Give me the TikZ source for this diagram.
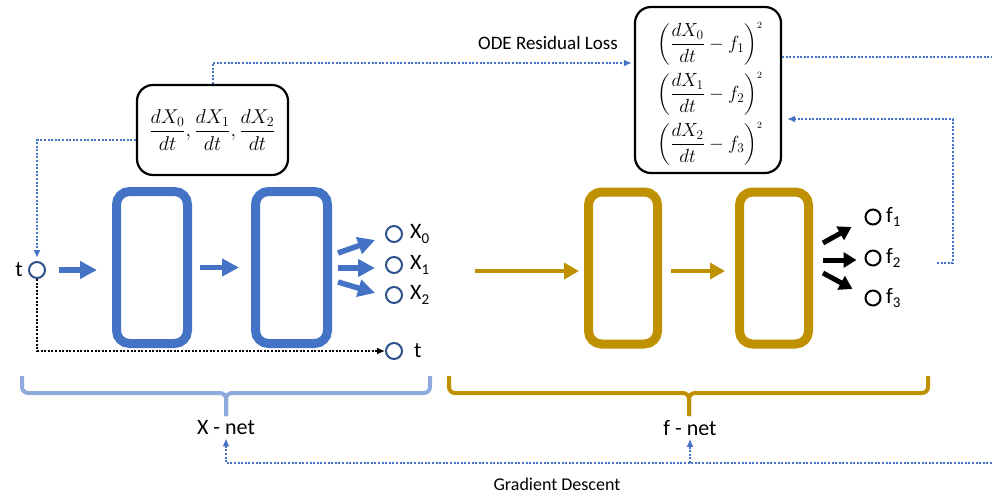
\documentclass[tikz,border=0pt]{standalone}
\usepackage{fix-cm}
\usepackage{amsmath}
\usepackage{fontspec}
\setmainfont{Carlito}
\usetikzlibrary{arrows.meta}
\definecolor{nblue}{HTML}{4472C4}
\definecolor{ndark}{HTML}{2F528F}
\definecolor{ngold}{HTML}{BF9000}
\definecolor{nlight}{HTML}{8FAADC}
\newcommand\sbs[1]{\raisebox{-0.45ex}{\fontsize{15}{15}\selectfont #1}}
\newcommand\sqterm[2]{$\left(\dfrac{dX_{#1}}{dt}-f_{#2}\right)^{\scriptscriptstyle 2}$}
\begin{document}
\begin{tikzpicture}[x=1pt,y=-1pt,
  netbox/.style={draw,line width=9pt,rounded corners=13pt,minimum width=71pt,minimum height=152pt,inner sep=0pt},
  bluebox/.style={netbox,draw=nblue},
  goldbox/.style={netbox,draw=ngold,minimum width=69pt},
  bcirc/.style={circle,draw=ndark,line width=2pt,fill=white,minimum size=16pt,inner sep=0pt},
  kcirc/.style={circle,draw=black,line width=2pt,fill=white,minimum size=15pt,inner sep=0pt},
  lab/.style={font=\fontsize{22}{24}\selectfont,inner sep=0pt},
  thickblue/.style={draw=nblue,line width=5.5pt,-{Triangle[length=17pt,width=17pt]}},
  thickgold/.style={draw=ngold,line width=4pt,-{Triangle[length=15pt,width=16pt]}},
  thickblack/.style={draw=black,line width=5pt,-{Triangle[length=13pt,width=15pt]}},
  bluedot/.style={draw=nblue,line width=2pt,dash pattern=on 2pt off 1.6pt},
  blackdot/.style={draw=black,line width=2pt,dash pattern=on 2pt off 1.6pt},
  dtip/.style={-{Latex[length=8pt,width=7pt]}},
  mbox/.style={draw=black,line width=2.2pt,rounded corners=16pt,inner sep=0pt,align=center},
  mterm/.style={font=\fontsize{19}{22}\selectfont,inner sep=0pt},
  brace/.style={line width=4pt,rounded corners=6pt}
]
\useasboundingbox (0,0) rectangle (992,493);

% network boxes
\node[bluebox] (b1) at (152,267.5) {};
\node[bluebox,minimum width=72pt] (b2) at (291.5,267.5) {};
\node[goldbox] (g1) at (623,268) {};
\node[goldbox] (g2) at (774,268) {};

% X-net inputs/outputs
\node[bcirc] (tc) at (37,270) {};
\node[lab,anchor=east] (tl) at (23,270) {t};
\node[bcirc] (x0) at (394,234) {};
\node[bcirc] (x1) at (394,265) {};
\node[bcirc] (x2) at (394,295) {};
\node[bcirc] (tb) at (394,351) {};
\node[lab,anchor=west] (x0l) at (410,234) {X\sbs{0}};
\node[lab,anchor=west] (x1l) at (410,265) {X\sbs{1}};
\node[lab,anchor=west] (x2l) at (410,295) {X\sbs{2}};
\node[lab,anchor=west] (tbl) at (414,351) {t};

\draw[thickblue] ([xshift=13pt]tc.east) -- ([xshift=-15pt]b1.west |- tc);
\draw[thickblue] ([xshift=8pt]b1.east) -- ([xshift=-12pt]b2.west);
\draw[thickblue] ([shift={(6,-14.5)}]b2.east) -- ([shift={(-10,6)}]x0.west);
\draw[thickblue] ([shift={(6,0.5)}]b2.east) -- ([shift={(-10,3)}]x1.west);
\draw[thickblue] ([shift={(6,14.5)}]b2.east) -- ([shift={(-10,-2)}]x2.west);
\draw[blackdot,dtip] (tc.south) |- (tb.west);

% f-net
\coordinate (fin) at (475,271);
\draw[thickgold,shorten >=5pt] (fin) -- (fin -| g1.west);
\draw[thickgold] ([xshift=9pt]g1.east |- fin) -- ([xshift=-10pt]g2.west |- fin);
\node[kcirc] (f1) at (873,217) {};
\node[kcirc] (f2) at (873,258) {};
\node[kcirc] (f3) at (873,298) {};
\node[lab,anchor=west] (f1l) at (886,217) {f\sbs{1}};
\node[lab,anchor=west] (f2l) at (886,258) {f\sbs{2}};
\node[lab,anchor=west] (f3l) at (886,298) {f\sbs{3}};
\draw[thickblack] ([shift={(10,-25)}]g2.east) -- ([shift={(-13,10)}]f1.west);
\draw[thickblack] ([shift={(10,-8)}]g2.east) -- ([shift={(-8,2)}]f2.west);
\draw[thickblack] ([shift={(10,5)}]g2.east) -- ([shift={(-12,-9)}]f3.west);

% math boxes
\node[mbox,minimum width=151pt,minimum height=90pt,font=\fontsize{20}{24}\selectfont] (dx) at (212.5,130)
  {$\dfrac{dX_0}{dt},\dfrac{dX_1}{dt},\dfrac{dX_2}{dt}$};
\node[mbox,minimum width=146pt,minimum height=166pt] (loss) at (708,90) {};
\node[mterm] (l1) at (710,44) {\sqterm{0}{1}};
\node[mterm] (l2) at (710,94) {\sqterm{1}{2}};
\node[mterm] (l3) at (710,144) {\sqterm{2}{3}};
\node[font=\fontsize{19}{22}\selectfont,inner sep=0pt] (odel) at (548,43) {ODE Residual Loss};

% feedback loops
\draw[bluedot,dtip] ([yshift=-10pt]dx.west) -| ([yshift=3pt]tc.north);
\draw[bluedot,dtip] (dx.north) |- ([shift={(-2,-27)}]loss.west);
\coordinate (outR) at (992,57);
\draw[bluedot] (loss.east |- outR) -- (outR);
\coordinate (rin) at (937,263);
\coordinate (rcorner) at (953,119);
\draw[bluedot,dtip] (rin) -| (rcorner) -- ([shift={(5,0)}]loss.east |- rcorner);

% braces
\draw[brace,draw=nlight] (22,376) -- (22,393) -- (226,393) -- (226,416);
\draw[brace,draw=nlight] (430,376) -- (430,393) -- (226,393) -- (226,416);
\draw[brace,draw=ngold] (449,376) -- (449,393) -- (689,393) -- (689,416);
\draw[brace,draw=ngold] (928,376) -- (928,393) -- (689,393) -- (689,416);
\node[lab] (xnet) at (226,428) {X - net};
\node[lab] (fnet) at (690,428) {f - net};

% gradient descent
\coordinate (gdR) at (992,463);
\draw[bluedot,dtip] (gdR) -| ([yshift=-3pt]xnet.south);
\draw[bluedot,dtip] (fnet.south |- gdR) -- ([yshift=-3pt]fnet.south);
\node[font=\fontsize{18}{20}\selectfont,inner sep=0pt] (gdl) at (557,484) {Gradient Descent};
\end{tikzpicture}
\end{document}
